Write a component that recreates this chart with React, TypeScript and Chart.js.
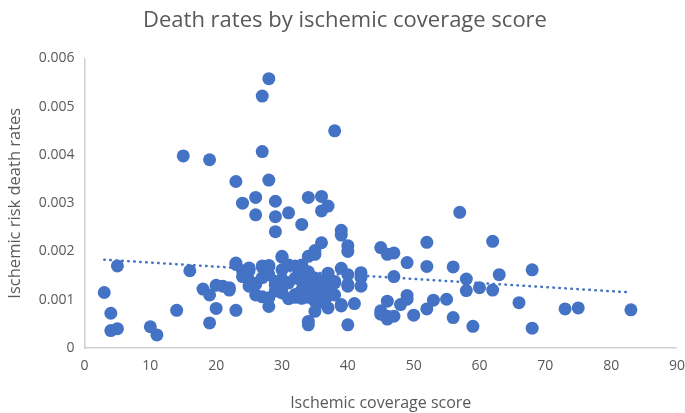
import { useEffect, useRef } from "react"
import { Chart, type ChartConfiguration, registerables } from "chart.js"

Chart.register(...registerables)

// coverage score of each point
const coverageScores = [
  3, 4, 4, 5, 5, 10, 11, 14, 15, 16, 18,
  19, 19, 19, 20, 20, 21, 22, 22,
  23, 23, 23, 23, 24, 24, 24, 25, 25, 25, 25,
  26, 26, 26, 26, 26, 27, 27, 27, 27, 27, 27,
  28, 28, 28, 28, 28, 28, 28, 29, 29, 29, 29, 29, 29, 29,
  30, 30, 30, 30, 30, 30, 31, 31, 31, 31, 32, 32, 32, 32,
  33, 33, 33, 33, 33, 33, 34, 34, 34, 34, 34, 34, 34, 34,
  35, 35, 35, 35, 35, 35, 35, 36, 36, 36, 36, 36, 36, 36,
  37, 37, 37, 37, 37, 38, 38, 38, 38, 39, 39, 39, 39, 39,
  40, 40, 40, 40, 40, 40, 41, 42, 42, 42,
  45, 45, 45, 46, 46, 46, 46, 47, 47, 47, 48, 49, 49, 49, 50,
  52, 52, 52, 53, 55, 56, 56, 57, 58, 58, 59, 60, 62, 62, 63,
  66, 68, 68, 73, 75, 83,
]

// death rate of each point (per 1000)
const deathRatesPerThousand = [
  1.15, 0.72, 0.36, 1.70, 0.40, 0.44, 0.27, 0.78, 3.98, 1.60, 1.22,
  3.90, 1.10, 0.52, 1.30, 0.82, 1.28, 1.20, 1.25,
  3.45, 1.76, 0.78, 1.73, 3.00, 1.60, 1.48, 1.60, 1.40, 1.28, 1.66,
  3.12, 2.76, 1.34, 1.10, 1.32, 5.22, 4.07, 1.68, 1.06, 1.70, 1.46,
  5.58, 3.48, 1.68, 1.52, 0.86, 1.04, 1.71, 3.04, 2.72, 2.41, 1.38, 1.18, 1.30, 1.32,
  1.88, 1.62, 1.14, 1.90, 1.42, 1.25, 2.80, 1.72, 1.02, 1.35, 1.05, 1.70, 1.11, 1.45,
  2.56, 1.72, 1.38, 1.03, 1.20, 1.55, 3.12, 1.90, 1.58, 1.45, 0.55, 0.48, 1.25, 1.05,
  2.02, 1.94, 1.25, 1.18, 0.97, 0.76, 1.45, 3.14, 2.84, 2.18, 1.40, 1.15, 1.05, 0.95,
  2.94, 1.55, 1.08, 0.83, 1.30, 4.50, 1.38, 1.10, 1.35, 2.44, 2.34, 1.65, 0.87, 0.90,
  2.12, 2.00, 1.52, 1.28, 0.48, 1.32, 0.92, 1.56, 1.46, 1.28,
  2.08, 0.77, 0.70, 1.94, 0.97, 0.66, 0.60, 1.97, 1.48, 0.66, 0.90, 1.77, 1.09, 1.01, 0.68,
  2.19, 1.69, 0.81, 0.99, 1.01, 1.68, 0.63, 2.81, 1.43, 1.19, 0.45, 1.25, 2.21, 1.20, 1.52,
  0.94, 1.62, 0.41, 0.81, 0.83, 0.79,
]

const xTicks = [0, 10, 20, 30, 40, 50, 60, 70, 80, 90]
const yTicks = [0, 0.001, 0.002, 0.003, 0.004, 0.005, 0.006]

const BLUE = "#4472C4"
const GREY = "#595959"
const FONT = "'Open Sans', 'Noto Sans', sans-serif"

export default function App() {
  const chartRef = useRef<HTMLCanvasElement>(null)
  const chartInstance = useRef<Chart | null>(null)

  useEffect(() => {
    document.body.style.margin = "0"
    if (!chartRef.current) return
    const ctx = chartRef.current.getContext("2d")
    if (!ctx) return

    if (chartInstance.current) {
      chartInstance.current.destroy()
    }

    const points = coverageScores.map((x, i) => ({ x, y: deathRatesPerThousand[i] / 1000 }))

    // linear trendline, as Excel draws it
    const n = points.length
    const mx = points.reduce((s, p) => s + p.x, 0) / n
    const my = points.reduce((s, p) => s + p.y, 0) / n
    let sxy = 0
    let sxx = 0
    points.forEach((p) => {
      sxy += (p.x - mx) * (p.y - my)
      sxx += (p.x - mx) * (p.x - mx)
    })
    const slope = sxy / sxx
    const icpt = my - slope * mx
    const xMin = Math.min(...coverageScores)
    const xMax = Math.max(...coverageScores)
    const trend = [
      { x: xMin, y: icpt + slope * xMin },
      { x: xMax, y: icpt + slope * xMax },
    ]

    const config: ChartConfiguration = {
      type: "scatter",
      data: {
        datasets: [
          {
            label: "Death rate",
            data: points,
            backgroundColor: BLUE,
            borderColor: BLUE,
            borderWidth: 0,
            pointRadius: 6.5,
            order: 0,
          },
          {
            label: "Linear",
            type: "line",
            data: trend,
            borderColor: BLUE,
            borderWidth: 2.5,
            borderDash: [0.5, 5.5],
            borderCapStyle: "round",
            pointRadius: 0,
            fill: false,
            order: 1,
          },
        ],
      },
      options: {
        responsive: true,
        maintainAspectRatio: false,
        animation: false,
        layout: { autoPadding: false, padding: { top: 8, right: 0, bottom: 0, left: 5 } },
        scales: {
          x: {
            type: "linear",
            min: 0,
            max: 90,
            afterBuildTicks: (axis) => {
              axis.ticks = xTicks.map((value) => ({ value }))
            },
            // tick marks are hidden but their length keeps the labels off the axis
            grid: { display: false, drawTicks: true, tickLength: 10 },
            border: { display: true, color: "#d0d0d0", width: 1.5 },
            ticks: { color: GREY, font: { family: FONT, size: 14 }, padding: 0 },
            title: {
              display: true,
              text: "Ischemic coverage score",
              color: GREY,
              font: { family: FONT, size: 16 },
              padding: { top: 19, bottom: 0 },
            },
          },
          y: {
            type: "linear",
            min: 0,
            max: 0.006,
            afterBuildTicks: (axis) => {
              axis.ticks = yTicks.map((value) => ({ value }))
            },
            grid: { display: false, drawTicks: false },
            border: { display: true, color: "#d0d0d0", width: 1.5 },
            ticks: {
              color: GREY,
              font: { family: FONT, size: 14 },
              padding: 10,
              callback: (v) => (Number(v) === 0 ? "0" : Number(v).toFixed(3)),
            },
            title: {
              display: true,
              text: "Ischemic risk death rates",
              color: GREY,
              font: { family: FONT, size: 16.5 },
              padding: { top: 0, bottom: 4 },
            },
          },
        },
        plugins: {
          legend: { display: false },
          tooltip: { enabled: false },
          title: {
            display: true,
            text: "Death rates by ischemic coverage score",
            color: GREY,
            font: { family: FONT, size: 22, weight: "normal" },
            padding: { top: 0, bottom: 24 },
          },
        },
      },
    }

    chartInstance.current = new Chart(ctx, config)

    return () => {
      if (chartInstance.current) {
        chartInstance.current.destroy()
        chartInstance.current = null
      }
    }
  }, [])

  return (
    <div style={{ width: 685, height: 413, background: "#ffffff" }}>
      <canvas ref={chartRef} />
    </div>
  )
}
